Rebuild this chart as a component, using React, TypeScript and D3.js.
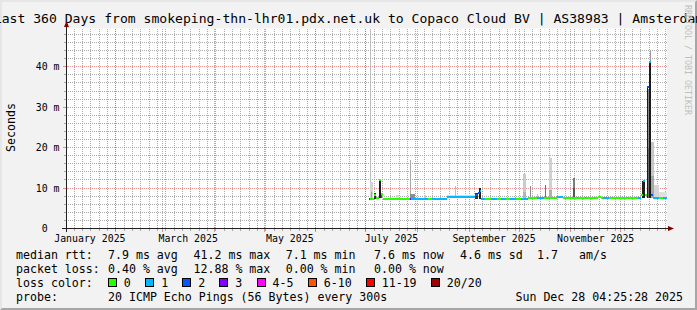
import React from "react";
import * as d3 from "d3";

// ---------------- data ----------------
const TITLE =
  "Last 360 Days from smokeping-thn-lhr01.pdx.net.uk to Copaco Cloud BV | AS38983 | Amsterdam";
const Y_LABEL = "Seconds";
const WATERMARK = "RRDTOOL / TOBI OETIKER";
const GRAPH_START = "2025-01-02T04:25:28Z";
const GRAPH_END = "2025-12-28T04:25:28Z";
const FIRST_SAMPLE = "2025-07-02T23:40:00Z";
const STEP_HOURS = 14.4;
const Y_MAX = 49.46;

const yMajorTicks = [10, 20, 30, 40];
const yMajorLabels = ["10 m", "20 m", "30 m", "40 m"];
const yZeroLabel = "0";

const xLabelMonths = ["2025-01-01", "2025-03-01", "2025-05-01", "2025-07-01", "2025-09-01", "2025-11-01"];
const xLabels = ["January 2025", "March 2025", "May 2025", "July 2025", "September 2025", "November 2025"];

const lossLabels = ["0", "1", "2", "3", "4-5", "6-10", "11-19", "20/20"];
const lossColors = ["#26ff00", "#00b8ff", "#0059ff", "#7e00ff", "#ff00ff", "#ff5500", "#ff0000", "#a10000"];

const rttHead = "median rtt:";
const rttStats = ["7.9 ms avg", "41.2 ms max", "7.1 ms min", "7.6 ms now", "4.6 ms sd", "1.7", "am/s"];
const lossHead = "packet loss:";
const lossStats = ["0.40 % avg", "12.88 % max", "0.00 % min", "0.00 % now"];
const colorHead = "loss color:";
const probeHead = "probe:";
const probeText = "20 ICMP Echo Pings (56 Bytes) every 300s";
const stampText = "Sun Dec 28 04:25:28 2025";

// median rtt, run-length: [steps, ms, loss bucket]
const medianRuns: [number, number, number][] = [
  [1, 7.3, 3], [4, 7.4, 0], [2, 8.4, 0], [3, 7.5, 0], [2, 11.9, 0], [2, 8.5, 0],
  [27, 7.3, 0], [1, 7.3, 3], [17, 7.3, 1], [4, 7.3, 0], [15, 7.3, 1], [28, 7.7, 1],
  [3, 8.2, 2], [2, 8.8, 2], [1, 9.2, 1], [4, 7.2, 1], [6, 7.2, 0], [6, 7.2, 1],
  [4, 7.2, 0], [5, 7.2, 1], [4, 7.2, 0], [6, 7.2, 1], [5, 7.2, 0], [7, 7.3, 1],
  [9, 7.6, 0], [7, 7.6, 1], [13, 7.6, 0], [6, 7.7, 1], [35, 7.6, 0], [3, 7.9, 0],
  [2, 7.6, 0], [6, 7.6, 1], [29, 7.6, 0], [3, 7.6, 1], [2, 8.3, 0], [2, 11.8, 1],
  [2, 8.2, 0], [2, 35.1, 2], [2, 41.2, 1], [2, 8.2, 2], [6, 7.6, 1], [4, 7.6, 0],
  [4, 7.6, 1],
];

// smoke: [first step, steps, low ms, high ms, grey]
const smokeBands: [number, number, number, number, string][] = [
  [1, 1, 7.4, 49.3, "#bdbdbd"],
  [1, 3, 7.4, 11.6, "#d2d2d2"],
  [2, 1, 7.4, 9.0, "#a0a0a0"],
  [5, 2, 7.4, 8.8, "#2e2e2e"],
  [10, 2, 7.5, 11.9, "#1c1c1c"],
  [12, 1, 7.5, 8.6, "#555555"],
  [27, 3, 7.4, 8.3, "#d8d8d8"],
  [41, 1, 7.3, 17.0, "#a8a8a8"],
  [41, 5, 7.3, 8.6, "#8e8e8e"],
  [55, 2, 7.3, 8.2, "#c8c8c8"],
  [78, 28, 7.7, 8.2, "#dadada"],
  [86, 1, 7.7, 10.4, "#bdbdbd"],
  [106, 3, 7.4, 8.7, "#333333"],
  [110, 2, 7.4, 10.0, "#1e1e1e"],
  [154, 3, 7.3, 13.5, "#cbcbcb"],
  [154, 3, 7.3, 9.0, "#b4b4b4"],
  [161, 1, 7.5, 10.6, "#8c8c8c"],
  [168, 1, 7.5, 8.5, "#c4c4c4"],
  [176, 1, 7.5, 10.8, "#707070"],
  [180, 3, 7.5, 17.5, "#d0d0d0"],
  [180, 3, 7.5, 9.5, "#b0b0b0"],
  [204, 2, 7.6, 12.5, "#7c7c7c"],
  [204, 2, 7.6, 10.0, "#555555"],
  [273, 3, 7.6, 11.7, "#1e1e1e"],
  [278, 1, 7.6, 35.1, "#1a1a1a"],
  [279, 1, 7.6, 34.5, "#8a8a8a"],
  [279, 1, 7.6, 20.0, "#6a6a6a"],
  [281, 1, 7.6, 43.8, "#9a9a9a"],
  [280, 2, 7.6, 41.2, "#1a1a1a"],
  [282, 3, 7.6, 21.5, "#c6c6c6"],
  [282, 3, 7.6, 13.0, "#a8a8a8"],
  [285, 5, 7.6, 10.8, "#d6d6d6"],
  [290, 8, 7.6, 9.0, "#e0e0e0"],
];

// ---------------- component ----------------
const FONT = "'DejaVu Sans Mono', monospace";
const W = 697;
const H = 310;

export default function App() {
  const t0 = new Date(GRAPH_START);
  const t1 = new Date(GRAPH_END);
  const plotL = 66, plotR = 667, plotT = 28.5, plotB = 228.5;
  const x = d3.scaleUtc().domain([t0, t1]).range([66, 666]);
  const y = d3.scaleLinear().domain([0, Y_MAX]).range([plotB, plotT]);

  const step = STEP_HOURS * 3600e3;
  const first = new Date(FIRST_SAMPLE).getTime();
  const colX = (c: number) => Math.round(x(new Date(first + c * step)));

  const samples: { c: number; v: number; loss: number }[] = [];
  let ci = 0;
  medianRuns.forEach(([n, v, loss]) => {
    for (let k = 0; k < n; k++, ci++) samples.push({ c: ci, v, loss });
  });

  const DAY = 86400e3;
  const minorX: Date[] = [];
  for (let t = Math.ceil(t0.getTime() / (5 * DAY)) * 5 * DAY; t <= t1.getTime(); t += 5 * DAY) {
    minorX.push(new Date(t));
  }
  const majorX = d3.utcMonth.range(d3.utcMonth.ceil(t0), t1);
  const minorY = d3.range(2, Y_MAX, 2).filter((v) => v % 10 !== 0);

  const gx = (t: Date) => Math.floor(x(t)) + 0.5;
  const gy = (v: number) => Math.floor(y(v)) + 0.5;

  const minorCol = "rgba(143,143,143,0.75)";
  const majorCol = "rgba(222,79,79,0.6)";

  const legendCols = [108, 193.5, 285.7, 374, 460, 537, 579];
  const boxX = [108.2, 145.7, 182.6, 219.6, 257, 308.2, 366.1, 431.2];
  const rowY = [258.5, 272.5, 286.5, 300.5];

  return (
    <div>
      <style>{`body{margin:0}`}</style>
      <svg width={W} height={H} style={{ display: "block" }} fontFamily={FONT}>
        <rect x={0} y={0} width={W} height={H} fill="#f2f2f2" />
        <polygon points={`0,0 ${W},0 ${W - 2},2 2,2 2,${H - 2} 0,${H}`} fill="#e6e6e6" />
        <polygon points={`${W},${H} 0,${H} 2,${H - 2} ${W - 2},${H - 2} ${W - 2},2 ${W},0`} fill="#a6a6a6" />
        <rect x={plotL} y={plotT} width={plotR - plotL} height={plotB - plotT} fill="#ffffff" />

        {/* title */}
        <text x={W / 2} y={22.5} fontSize={13.1} textAnchor="middle" fill="#000">{TITLE}</text>

        {/* watermark */}
        <text transform={`translate(684.5,5) rotate(90)`} fontSize={8.3} fill="#bfbfbf">{WATERMARK}</text>

        {/* grid */}
        <g shapeRendering="crispEdges">
          {minorX.map((t, i) => (
            <g key={"mx" + i}>
              <line x1={gx(t)} x2={gx(t)} y1={plotT} y2={plotB} stroke={minorCol} strokeDasharray="1 1" />
              <line x1={gx(t)} x2={gx(t)} y1={plotB} y2={plotB + 2.5} stroke={minorCol} />
            </g>
          ))}
          {minorY.map((v) => (
            <g key={"my" + v}>
              <line x1={plotL} x2={plotR} y1={gy(v)} y2={gy(v)} stroke={minorCol} strokeDasharray="1 1" />
              <line x1={plotL - 2.5} x2={plotL} y1={gy(v)} y2={gy(v)} stroke={minorCol} />
            </g>
          ))}
          {majorX.map((t, i) => (
            <g key={"Mx" + i}>
              <line x1={gx(t)} x2={gx(t)} y1={plotT} y2={plotB} stroke={majorCol} strokeDasharray="1 1" />
              <line x1={gx(t)} x2={gx(t)} y1={plotB - 2} y2={plotB + 3} stroke={majorCol} />
            </g>
          ))}
          {yMajorTicks.map((v) => (
            <g key={"My" + v}>
              <line x1={plotL} x2={plotR} y1={gy(v)} y2={gy(v)} stroke={majorCol} strokeDasharray="1 1" />
              <line x1={plotL - 3} x2={plotL + 2} y1={gy(v)} y2={gy(v)} stroke={majorCol} />
            </g>
          ))}
        </g>

        {/* smoke */}
        <g shapeRendering="crispEdges">
          {smokeBands.map(([c, n, lo, hi, col], i) => {
            const x0 = colX(c);
            const x1 = colX(c + n);
            const yt = Math.round(y(hi));
            const yb = Math.round(y(lo));
            return <rect key={"s" + i} x={x0} y={yt} width={x1 - x0} height={Math.max(1, yb - yt)} fill={col} />;
          })}
        </g>

        {/* median */}
        <g shapeRendering="crispEdges">
          {samples.map((s) => {
            const x0 = colX(s.c);
            const x1 = colX(s.c + 1);
            return (
              <rect key={"m" + s.c} x={x0} y={Math.round(y(s.v)) - 1} width={x1 - x0} height={2} fill={lossColors[s.loss]} />
            );
          })}
        </g>

        {/* axes */}
        <g shapeRendering="crispEdges">
          <line x1={62} x2={670} y1={plotB} y2={plotB} stroke="#212121" />
          <line x1={66.5} x2={66.5} y1={232} y2={25} stroke="#212121" />
        </g>
        <polygon points={`668,226 668,231 674,228.5`} fill="#800000" />
        <polygon points={`64,27 69,27 66.5,21`} fill="#800000" />

        {/* y labels */}
        {yMajorTicks.map((v, i) => (
          <text key={"yl" + v} x={59.5} y={y(v) + 3.6} fontSize={9.9} textAnchor="end" fill="#000">
            {yMajorLabels[i]}
          </text>
        ))}
        <text x={59.5 - 2 * 5.96} y={y(0) + 3.6} fontSize={9.9} textAnchor="end" fill="#000">{yZeroLabel}</text>
        <text transform={`translate(14.8,127.5) rotate(-90)`} fontSize={11.6} textAnchor="middle" fill="#000">{Y_LABEL}</text>

        {/* x labels */}
        {xLabelMonths.map((m, i) => {
          const ms = new Date(m + "T00:00:00Z");
          const me = d3.utcMonth.offset(ms, 1);
          const cx = (x(ms) + x(me)) / 2;
          return (
            <text key={"xl" + i} x={cx} y={241.7} fontSize={9.9} textAnchor="middle" fill="#000">
              {xLabels[i]}
            </text>
          );
        })}

        {/* legend */}
        <g fontSize={11.6} fill="#000">
          <text x={16} y={rowY[0]}>{rttHead}</text>
          {rttStats.map((s, i) => (
            <text key={"r" + i} x={legendCols[i]} y={rowY[0]}>{s}</text>
          ))}
          <text x={16} y={rowY[1]}>{lossHead}</text>
          {lossStats.map((s, i) => (
            <text key={"l" + i} x={legendCols[i]} y={rowY[1]}>{s}</text>
          ))}
          <text x={16} y={rowY[2]}>{colorHead}</text>
          {lossLabels.map((s, i) => (
            <g key={"c" + i}>
              <rect x={boxX[i]} y={278.5} width={8} height={8} fill={lossColors[i]} stroke="#000" strokeWidth={1} shapeRendering="crispEdges" />
              <text x={boxX[i] + 15.6} y={rowY[2]}>{s}</text>
            </g>
          ))}
          <text x={16} y={rowY[3]}>{probeHead}</text>
          <text x={108} y={rowY[3]}>{probeText}</text>
          <text x={683} y={rowY[3]} textAnchor="end">{stampText}</text>
        </g>
      </svg>
    </div>
  );
}
